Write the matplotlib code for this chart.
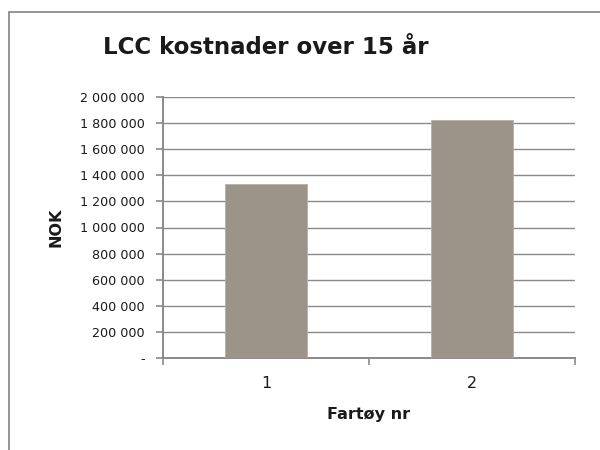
import matplotlib
matplotlib.use("Agg")
import matplotlib.pyplot as plt
from matplotlib.patches import Rectangle
from matplotlib.ticker import FuncFormatter, FixedLocator

categories = ["1", "2"]
costs = [1330000, 1820000]
y_ticks = [0, 200000, 400000, 600000, 800000, 1000000, 1200000, 1400000,
           1600000, 1800000, 2000000]

title = "LCC kostnader over 15 år"
x_label = "Fartøy nr"
y_label = "NOK"

bar_color = "#9c9389"
grid_color = "#8a8a8a"
text_color = "#1a1a1a"

plt.rcParams["font.family"] = ["DejaVu Sans"]

fig = plt.figure(figsize=(6, 4.5), dpi=100)
fig.patch.set_facecolor("white")

# Chart frame (open on the right and bottom edges)
frame = Rectangle((8.5 / 600, -0.2), 1.2, (450 - 11.5) / 450 + 0.2,
                  transform=fig.transFigure, fill=False,
                  edgecolor="#8c8c8c", linewidth=1.3, clip_on=False)
fig.patches.append(frame)

ax = fig.add_axes([163 / 600, (450 - 358.3) / 450, 412 / 600, 261.6 / 450])

x = list(range(len(categories)))
ax.bar(x, costs, width=0.4, color=bar_color, edgecolor="#b5aea6",
       linewidth=0.6, zorder=3)

ax.set_xlim(-0.5, len(categories) - 0.5)
ax.set_ylim(0, 2000000)
ax.set_yticks(y_ticks)


def fmt(v, pos):
    if v == 0:
        return "-"
    return f"{int(v):,}".replace(",", " ")


ax.yaxis.set_major_formatter(FuncFormatter(fmt))
ax.set_xticks(x)
ax.set_xticklabels(categories)
ax.xaxis.set_minor_locator(FixedLocator([i - 0.5 for i in range(len(categories) + 1)]))

ax.tick_params(axis="x", which="major", length=0, pad=13, labelsize=11.5,
               labelcolor=text_color)
ax.tick_params(axis="x", which="minor", length=5, width=1.2, color=grid_color,
               direction="out")
ax.tick_params(axis="y", which="major", length=5, width=1.2, color=grid_color,
               direction="out", pad=8, labelsize=9.2, labelcolor=text_color)

ax.grid(axis="y", color=grid_color, linewidth=1.0, zorder=0)
ax.set_axisbelow(True)

for side in ("top", "right"):
    ax.spines[side].set_visible(False)
for side in ("left", "bottom"):
    ax.spines[side].set_color(grid_color)
    ax.spines[side].set_linewidth(1.4)

ax.set_xlabel(x_label, fontsize=11.5, fontweight="bold", color=text_color,
              labelpad=11)
ax.set_ylabel(y_label, fontsize=11.5, fontweight="bold", color=text_color,
              labelpad=12)

fig.text(266 / 600, (450 - 48) / 450, title, ha="center", va="center",
         fontsize=16.5, fontweight="bold", color=text_color)

fig.savefig("out.png", dpi=100, facecolor="white")
